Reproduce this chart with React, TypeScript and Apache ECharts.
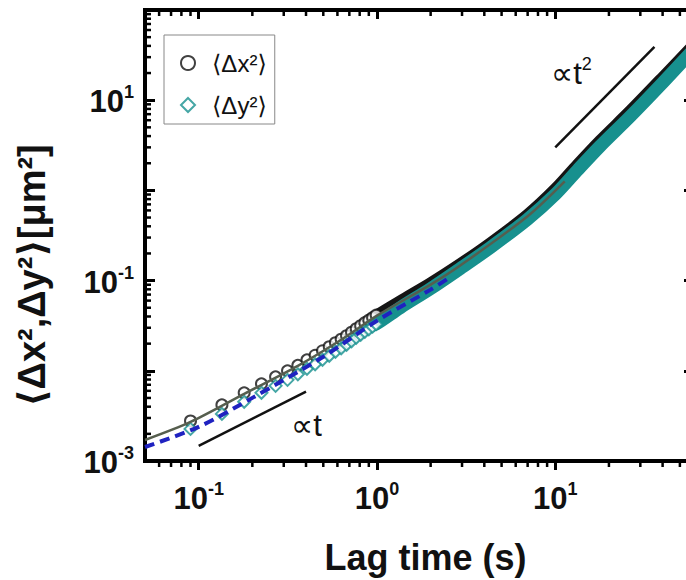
import React, { useEffect, useRef } from 'react';
import * as echarts from 'echarts';

// ---- data ----
// discrete lag times (s) where individual markers are visible
const lagTimes = [0.09, 0.135, 0.18, 0.225, 0.27, 0.315, 0.36, 0.405, 0.45, 0.495, 0.54, 0.585, 0.63, 0.675, 0.72, 0.765, 0.81, 0.855, 0.9, 0.945, 0.99];
const msdX = [0.00278, 0.00419, 0.0057, 0.00717, 0.00858, 0.01, 0.01151, 0.01325, 0.01487, 0.01668, 0.01848, 0.02048, 0.02239, 0.02448, 0.02678, 0.02929, 0.03162, 0.03415, 0.0364, 0.03881, 0.04137];
const msdY = [0.00227, 0.00333, 0.00453, 0.0057, 0.00681, 0.00794, 0.00914, 0.01052, 0.01181, 0.01325, 0.01468, 0.01626, 0.01778, 0.01945, 0.02127, 0.02326, 0.02512, 0.02712, 0.02891, 0.03084, 0.03286];
// dense part of the data (markers merge into a band)
const bandTimes = [0.9, 1.0, 1.35, 2.0, 2.93, 4.33, 6.97, 10.0, 13.3, 17.8, 26.4, 38.9, 60];
const bandX = [0.0364, 0.0419, 0.06, 0.095, 0.1545, 0.264, 0.541, 1.05, 1.95, 3.59, 7.74, 17.1, 41.9];
const bandY = [0.0308, 0.0335, 0.0501, 0.0815, 0.1359, 0.233, 0.476, 0.903, 1.67, 3.08, 6.64, 14.7, 36.9];
// fit curves
const fitXTimes = [0.05, 0.09, 0.18, 0.36, 0.63, 1.0, 2.0, 2.93, 6.97, 11.3];
const fitXValues = [0.00171, 0.00271, 0.00555, 0.01136, 0.02211, 0.04084, 0.0903, 0.1468, 0.514, 1.26];
const fitYTimes = [0.05, 0.1, 0.2, 0.5, 1.0, 2.0, 2.5];
const fitYValues = [0.00143, 0.00239, 0.00501, 0.01431, 0.0359, 0.0794, 0.1052];
// guide lines
const slope1Times = [0.1, 0.4];
const slope1Values = [0.00147, 0.00588];
const slope2Times = [10, 36];
const slope2Values = [3.0, 38.9];
// axes
const X_MIN = 0.05;
const X_MAX = 60;
const Y_MIN = 0.001;
const Y_MAX = 100;
const xLabelExponents = [-1, 0, 1];
const yLabelExponents = [-3, -1, 1];
const mantissas = [2, 3, 4, 5, 6, 7, 8, 9];
const xDecades = [0.01, 0.1, 1, 10];
const yDecades = [0.001, 0.01, 0.1, 1, 10];

const FONT = '"Liberation Sans", Arial, "DejaVu Sans", sans-serif';

function minorTicks(decades: number[], lo: number, hi: number) {
  const out: number[] = [];
  decades.forEach((d) => mantissas.forEach((m) => {
    const v = +(d * m).toPrecision(6);
    if (v > lo * 1.0001 && v < hi * 0.9999) out.push(v);
  }));
  return out;
}

function powLabel(v: number, allowed: number[]) {
  const l = Math.log10(v);
  const e = Math.round(l);
  if (Math.abs(l - e) > 1e-6 || allowed.indexOf(e) < 0) return '';
  return `{b|10}{s|${e}}`;
}

const labelRich = {
  b: { fontSize: 31, fontWeight: 'bold', fontFamily: FONT, color: '#111', lineHeight: 34, verticalAlign: 'bottom' },
  s: { fontSize: 18, fontWeight: 'bold', fontFamily: FONT, color: '#111', lineHeight: 16, verticalAlign: 'top' },
};

export default function App() {
  const ref = useRef<HTMLDivElement>(null);
  useEffect(() => {
    if (!ref.current) return;
    const chart = echarts.init(ref.current, undefined, { renderer: 'svg' });
    const xMinor = minorTicks(xDecades, X_MIN, X_MAX);
    const yMinor = minorTicks(yDecades, Y_MIN, Y_MAX);
    const logAxisX = { type: 'log', logBase: 10, min: X_MIN, max: X_MAX, splitLine: { show: false }, axisLine: { show: false } };
    const logAxisY = { type: 'log', logBase: 10, min: Y_MIN, max: Y_MAX, splitLine: { show: false }, axisLine: { show: false } };
    const tickStyle = { color: '#000', width: 3 };

    const option: any = {
      animation: false,
      textStyle: { fontFamily: FONT },
      grid: { left: 145, right: 6, top: 10, bottom: 119, show: true, borderColor: '#000', borderWidth: 4, backgroundColor: 'transparent' },
      legend: {
        data: [
          { name: '⟨Δx²⟩', icon: 'emptyCircle' },
          { name: '⟨Δy²⟩', icon: 'emptyDiamond' },
        ],
        orient: 'vertical',
        left: 164,
        top: 35,
        padding: [14, 8, 5, 16],
        itemGap: 14,
        itemWidth: 14,
        itemHeight: 14,
        borderColor: '#888',
        borderWidth: 1,
        selectedMode: false,
        textStyle: { fontSize: 24, color: '#111', fontFamily: FONT, lineHeight: 28, padding: [0, 0, 0, 12] },
      },
      xAxis: [
        {
          ...logAxisX,
          position: 'bottom',
          name: 'Lag time (s)',
          nameLocation: 'middle',
          nameGap: 78,
          nameTextStyle: { fontSize: 36, fontWeight: 'bold', color: '#111', fontFamily: FONT, padding: [0, 0, 0, 12] },
          axisTick: { show: true, inside: false, length: 9, lineStyle: tickStyle },
          axisLabel: { margin: 19, showMinLabel: false, showMaxLabel: false, formatter: (v: number) => powLabel(v, xLabelExponents), rich: labelRich },
        },
        {
          ...logAxisX,
          position: 'top',
          axisTick: { show: true, inside: true, length: 9, lineStyle: tickStyle },
          axisLabel: { show: false },
        },
      ],
      yAxis: [
        {
          ...logAxisY,
          position: 'left',
          name: '⟨Δx²,Δy²⟩[μm²]',
          nameLocation: 'middle',
          nameRotate: 90,
          nameGap: 94,
          nameTextStyle: { fontSize: 38, fontWeight: 'bold', color: '#111', fontFamily: FONT, padding: [0, 80, 0, 0] },
          axisTick: { show: true, inside: true, length: 10, lineStyle: tickStyle },
          axisLabel: { margin: 11, formatter: (v: number) => powLabel(v, yLabelExponents), rich: labelRich },
        },
        {
          ...logAxisY,
          position: 'right',
          axisTick: { show: true, inside: true, length: 10, lineStyle: tickStyle },
          axisLabel: { show: false },
        },
      ],
      series: [
        {
          name: '⟨Δx²⟩',
          type: 'scatter',
          symbol: 'emptyCircle',
          symbolSize: 11,
          itemStyle: { color: '#111', borderWidth: 1.5 },
          data: lagTimes.map((t, i) => [t, msdX[i]]),
          z: 2,
        },
        {
          name: 'Δx² band',
          type: 'line',
          smooth: 0.3,
          showSymbol: false,
          lineStyle: { color: '#151515', width: 11 },
          data: bandTimes.map((t, i) => [t, bandX[i]]),
          z: 2,
        },
        {
          name: '⟨Δy²⟩',
          type: 'scatter',
          symbol: 'emptyDiamond',
          symbolSize: 12,
          itemStyle: { color: '#17908e', borderWidth: 1.6 },
          data: lagTimes.map((t, i) => [t, msdY[i]]),
          z: 3,
        },
        {
          name: 'Δy² band',
          type: 'line',
          smooth: 0.3,
          showSymbol: false,
          lineStyle: { color: '#17908e', width: 13 },
          data: bandTimes.map((t, i) => [t, bandY[i]]),
          z: 3,
        },
        {
          name: 'fit x',
          type: 'line',
          smooth: 0.3,
          showSymbol: false,
          lineStyle: { color: '#565e4e', width: 2.5 },
          data: fitXTimes.map((t, i) => [t, fitXValues[i]]),
          z: 4,
        },
        {
          name: 'fit y',
          type: 'line',
          smooth: 0.3,
          showSymbol: false,
          lineStyle: { color: '#1f22c0', width: 4, type: [10, 6] },
          data: fitYTimes.map((t, i) => [t, fitYValues[i]]),
          z: 5,
        },
        {
          name: '∝t',
          type: 'line',
          showSymbol: false,
          lineStyle: { color: '#111', width: 2.5 },
          data: slope1Times.map((t, i) => [t, slope1Values[i]]),
          z: 5,
        },
        {
          name: '∝t²',
          type: 'line',
          showSymbol: false,
          lineStyle: { color: '#111', width: 2.5 },
          data: slope2Times.map((t, i) => [t, slope2Values[i]]),
          z: 5,
        },
        {
          name: 'minor ticks',
          type: 'custom',
          coordinateSystem: 'cartesian2d',
          clip: false,
          silent: true,
          z: 10,
          data: [[1, 1]],
          renderItem: (params: any, api: any) => {
            const cs = params.coordSys;
            const left = cs.x, right = cs.x + cs.width, top = cs.y, bottom = cs.y + cs.height;
            const st = { stroke: '#000', lineWidth: 2.5 };
            const children: any[] = [];
            xMinor.forEach((v) => {
              const px = api.coord([v, 1])[0];
              children.push({ type: 'line', shape: { x1: px, y1: bottom, x2: px, y2: bottom + 6 }, style: st });
              children.push({ type: 'line', shape: { x1: px, y1: top, x2: px, y2: top + 6 }, style: st });
            });
            yMinor.forEach((v) => {
              const py = api.coord([1, v])[1];
              children.push({ type: 'line', shape: { x1: left, y1: py, x2: left + 6, y2: py }, style: st });
              children.push({ type: 'line', shape: { x1: right - 6, y1: py, x2: right, y2: py }, style: st });
            });
            return { type: 'group', children };
          },
        },
      ],
      graphic: [
        {
          type: 'text',
          x: 291,
          y: 425,
          style: { text: '∝t', fontSize: 31, fontFamily: FONT, fill: '#111', align: 'left', verticalAlign: 'middle' },
        },
        {
          type: 'text',
          x: 551,
          y: 72,
          style: {
            text: '{n|∝t}{s|2}',
            align: 'left',
            verticalAlign: 'middle',
            rich: {
              n: { fontSize: 31, fontFamily: FONT, fill: '#111', lineHeight: 34, verticalAlign: 'bottom' },
              s: { fontSize: 18, fontFamily: FONT, fill: '#111', lineHeight: 15, verticalAlign: 'top' },
            },
          },
        },
      ],
    };
    chart.setOption(option);
    return () => chart.dispose();
  }, []);
  return <div ref={ref} style={{ position: 'fixed', left: 0, top: 0, width: 700, height: 580, background: '#fff' }} />;
}
